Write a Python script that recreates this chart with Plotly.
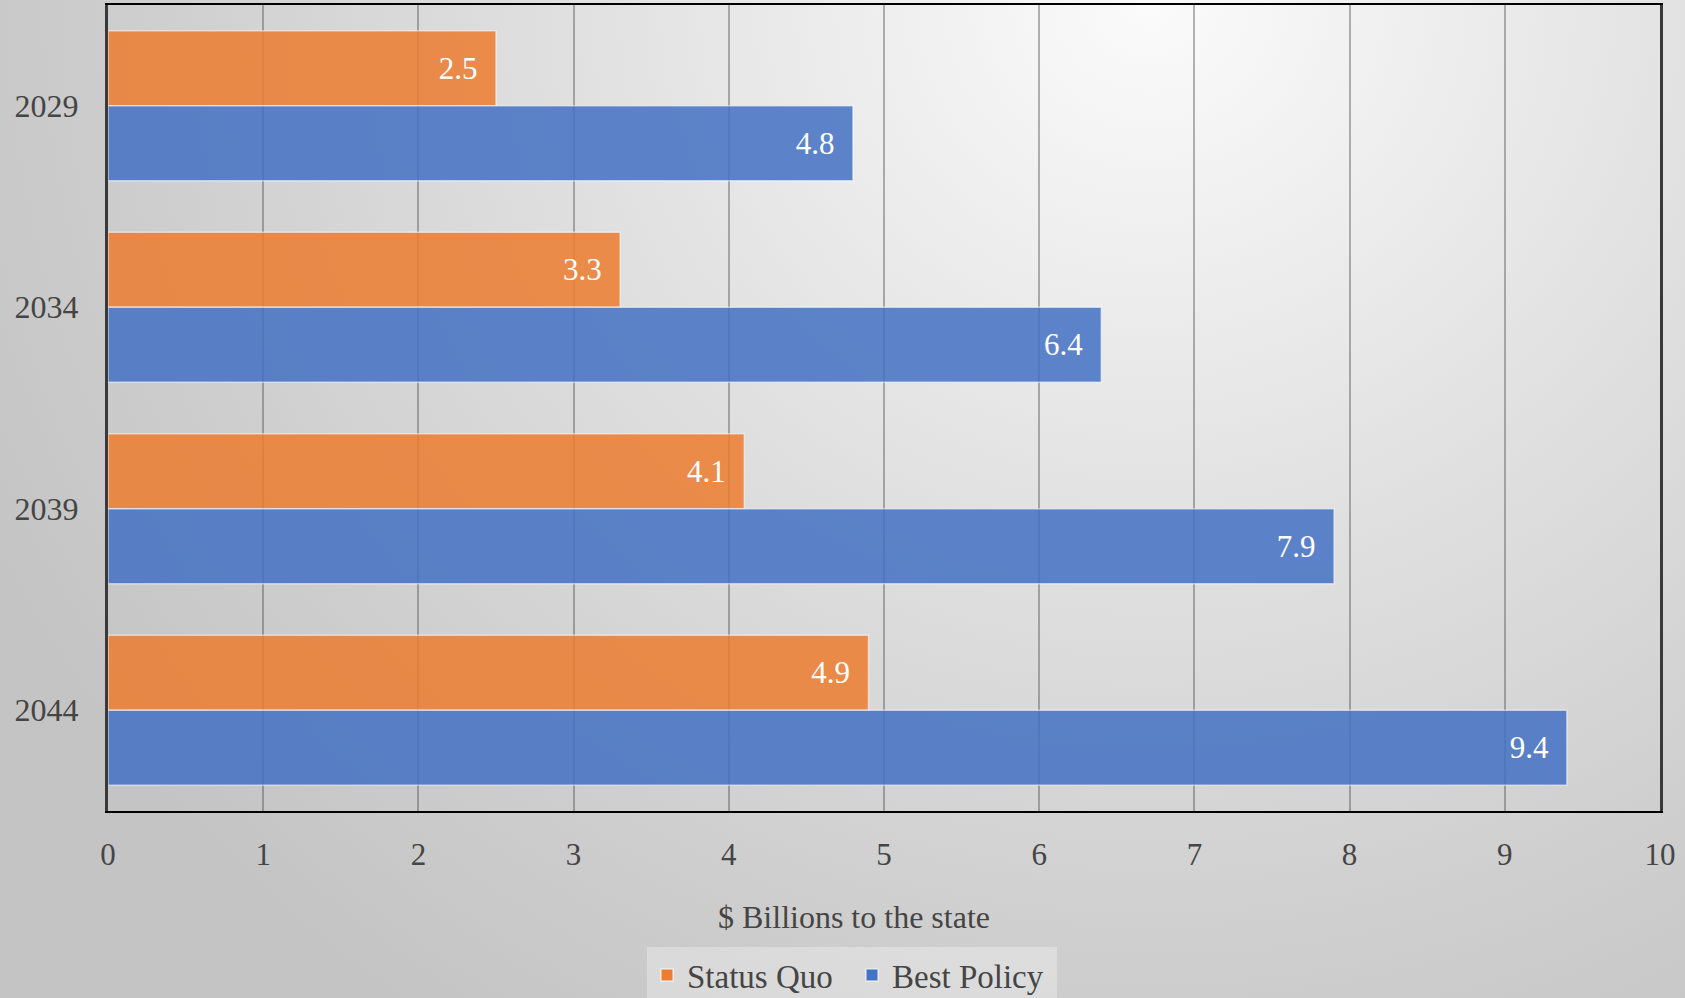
import base64
import plotly.graph_objects as go

years = ["2029", "2034", "2039", "2044"]
status_quo = [2.5, 3.3, 4.1, 4.9]
best_policy = [4.8, 6.4, 7.9, 9.4]
series_names = ["Status Quo", "Best Policy"]
x_ticks = list(range(0, 11))
x_title = "$ Billions to the state"

W, H = 1685, 998
ML, MR, MT, MB = 108, 25, 5, 187
PW, PH = W - ML - MR, H - MT - MB

FONT = "Liberation Serif"
TXT = "#454545"

svg = (
    '<svg xmlns="http://www.w3.org/2000/svg" width="1685" height="998" '
    'viewBox="0 0 1685 998" preserveAspectRatio="none">'
    '<defs><radialGradient id="g" gradientUnits="userSpaceOnUse" cx="1150" cy="0" r="1300" '
    'gradientTransform="translate(1150 0) scale(1 0.95) translate(-1150 0)">'
    '<stop offset="0" stop-color="#fbfbfb"/>'
    '<stop offset="0.45" stop-color="#e0e0e0"/>'
    '<stop offset="0.8" stop-color="#cdcdcd"/>'
    '<stop offset="1" stop-color="#c4c4c4"/>'
    '</radialGradient></defs>'
    '<rect x="0" y="0" width="1685" height="998" fill="url(#g)"/></svg>'
)
src = "data:image/svg+xml;base64," + base64.b64encode(svg.encode()).decode()

fig = go.Figure()
fig.add_trace(go.Bar(
    y=years, x=status_quo, name=series_names[0], orientation="h",
    marker=dict(color="#ED7D31", opacity=0.85,
                line=dict(color="rgba(255,255,255,0.6)", width=1.5)),
    texttemplate="%{x:.1f}\u2002", textposition="inside", insidetextanchor="end",
    textfont=dict(family=FONT, size=31, color="white"),
    cliponaxis=False,
))
fig.add_trace(go.Bar(
    y=years, x=best_policy, name=series_names[1], orientation="h",
    marker=dict(color="#4472C4", opacity=0.85,
                line=dict(color="rgba(255,255,255,0.6)", width=1.5)),
    texttemplate="%{x:.1f}\u2002", textposition="inside", insidetextanchor="end",
    textfont=dict(family=FONT, size=31, color="white"),
    cliponaxis=False,
))

fig.update_layout(
    width=W, height=H,
    margin=dict(l=ML, r=MR, t=MT, b=MB, pad=0, autoexpand=False),
    paper_bgcolor="#d6d6d6",
    plot_bgcolor="rgba(0,0,0,0)",
    barmode="group", bargap=0.255, bargroupgap=0,
    font=dict(family=FONT, size=31, color=TXT),
    images=[dict(source=src, xref="paper", yref="paper",
                 x=-ML / PW, y=1 + MT / PH, sizex=W / PW, sizey=H / PH,
                 xanchor="left", yanchor="top", sizing="stretch", layer="below")],
    xaxis=dict(range=[0, 10], tickvals=x_ticks, showgrid=True,
               gridcolor="rgba(70,70,70,0.4)", gridwidth=1.5,
               showline=True, linecolor="#000000", linewidth=2, mirror=True,
               ticks="", ticklabelstandoff=15, zeroline=False,
               tickfont=dict(family=FONT, size=31, color=TXT)),
    yaxis=dict(type="category", autorange="reversed", showgrid=False,
               showline=True, linecolor="#3a3a3a", linewidth=3, mirror=True,
               ticks="", ticklabelstandoff=20,
               tickfont=dict(family=FONT, size=32, color=TXT)),
    showlegend=True,
    legend=dict(orientation="h", x=(852 - ML) / PW, xanchor="center",
                y=-(947 - (MT + PH)) / PH, yanchor="top",
                bgcolor="rgba(255,255,255,0.3)",
                font=dict(family=FONT, size=33, color=TXT),
                itemwidth=30, tracegroupgap=0,
                entrywidth=160, entrywidthmode="pixels"),
    annotations=[dict(text=x_title, xref="paper", yref="paper",
                      x=(854 - ML) / PW, y=-(917 - (MT + PH)) / PH,
                      xanchor="center", yanchor="middle", showarrow=False,
                      font=dict(family=FONT, size=32, color=TXT))],
)

fig.write_html(
    "out.html",
    config={"displayModeBar": False},
    post_script="document.body.style.margin='0';document.body.style.overflow='hidden';",
)
